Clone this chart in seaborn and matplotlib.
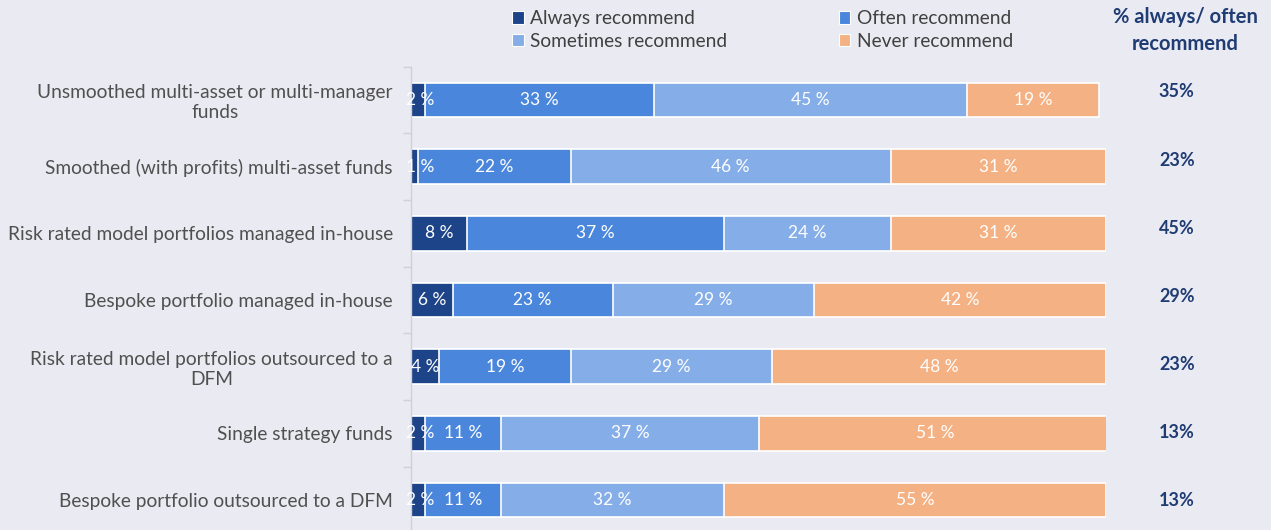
import matplotlib
matplotlib.use("Agg")
import matplotlib.pyplot as plt
from matplotlib.patches import Patch
from matplotlib.ticker import FixedLocator
import numpy as np
import pandas as pd
import seaborn as sns

categories = [
    "Unsmoothed multi-asset or multi-manager\nfunds",
    "Smoothed (with profits) multi-asset funds",
    "Risk rated model portfolios managed in-house",
    "Bespoke portfolio managed in-house",
    "Risk rated model portfolios outsourced to a\nDFM",
    "Single strategy funds",
    "Bespoke portfolio outsourced to a DFM",
]
series_names = ["Always recommend", "Often recommend", "Sometimes recommend", "Never recommend"]
always = [2, 1, 8, 6, 4, 2, 2]
often = [33, 22, 37, 23, 19, 11, 11]
sometimes = [45, 46, 24, 29, 29, 37, 32]
never = [19, 31, 31, 42, 48, 51, 55]
always_often_total = [35, 23, 45, 29, 23, 13, 13]

colors = ["#1D4388", "#4A86DC", "#85ADE7", "#F4B183"]

sns.set_theme(style="darkgrid")
plt.rcParams["font.family"] = ["Lato", "DejaVu Sans"]

df = pd.DataFrame({
    "category": categories,
    series_names[0]: always,
    series_names[1]: often,
    series_names[2]: sometimes,
    series_names[3]: never,
})
values = df[series_names].to_numpy(dtype=float)
cum = np.cumsum(values, axis=1)

fig = plt.figure(figsize=(12.71, 5.30), dpi=100)
fig.patch.set_facecolor("#EAEAF2")
ax = fig.add_axes([411 / 1271, -3.5 / 530, 695 / 1271, 467 / 530])
ax.set_facecolor("#EAEAF2")

# stacked bars: draw cumulative totals from the widest segment inwards
for j in range(len(series_names) - 1, -1, -1):
    sns.barplot(x=cum[:, j], y=df["category"], orient="h", color=colors[j],
                width=0.52, edgecolor="white", linewidth=1.2, ax=ax,
                saturation=1)

# value labels inside each segment
for i in range(len(categories)):
    start = 0.0
    for j in range(len(series_names)):
        v = values[i, j]
        ax.text(start + max(v, 2.5) / 2, i, f"{int(v)} %", ha="center", va="center",
                color="white", fontsize=12.5)
        start += v

# right-hand summary column (its own row spacing, slightly wider than the bars')
for i, t in enumerate(always_often_total):
    ax.text(110.2, -0.118 + i * 1.0197, f"{t}%", ha="center", va="center",
            color="#1F3C73", fontsize=13, fontweight="bold", clip_on=False)
fig.text(1185 / 1271, 1 - 30.5 / 530, "% always/ often\nrecommend", ha="center",
         va="center", color="#1F3C73", fontsize=14.5, fontweight="bold",
         linespacing=1.42)

ax.set_xlim(0, 100)
ax.set_ylim(6.5, -0.5)
ax.grid(False)
ax.set_xlabel("")
ax.set_ylabel("")
ax.set_xticks([])
ax.tick_params(axis="y", which="major", length=0, pad=13, labelsize=13.8,
               labelcolor="#505050")
for lab in ax.get_yticklabels():
    lab.set_horizontalalignment("right")
    lab.set_multialignment("center")
ax.yaxis.set_minor_locator(FixedLocator(np.arange(-0.5, 7.0, 1.0)))
ax.tick_params(axis="y", which="minor", length=6, width=1, color="#D0D0D8", left=True)
for side in ["top", "right", "bottom"]:
    ax.spines[side].set_visible(False)
ax.spines["left"].set_visible(True)
ax.spines["left"].set_color("#D0D0D8")
ax.spines["left"].set_linewidth(1)

# legend filled column-wise: Always/Sometimes in col 1, Often/Never in col 2
order = [0, 2, 1, 3]
handles = [Patch(facecolor=colors[k], edgecolor="white", linewidth=0.8) for k in order]
labels = [series_names[k] for k in order]
fig.legend(handles, labels, loc="upper left", ncol=2,
           bbox_to_anchor=(495 / 1271, 1 + 7 / 530), frameon=False,
           fontsize=13.8, handlelength=0.6, handleheight=0.6, handletextpad=0.35,
           columnspacing=5.8, labelspacing=0.28, labelcolor="#404040")

fig.savefig("out.png", dpi=100, facecolor=fig.get_facecolor())
